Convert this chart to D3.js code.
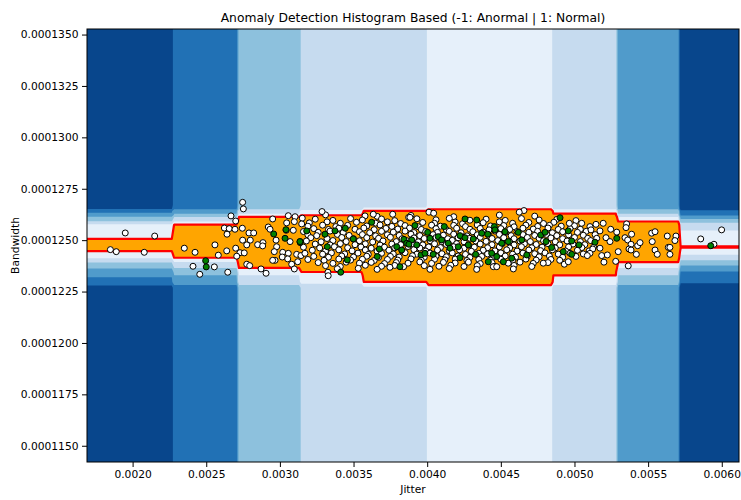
<!DOCTYPE html>
<html lang="en">
<head>
  <meta charset="UTF-8" />
  <title>Anomaly Detection Histogram Based</title>
  <script src="https://cdn.jsdelivr.net/npm/d3@7/dist/d3.min.js"></script>
  <style>
    body { margin: 0; background: #fff; }
    text { font-family: "DejaVu Sans", sans-serif; fill: #000; }
  </style>
</head>
<body>
  <div id="chart"></div>
  <script>
    // jitter values are in units of 1e-4, bandwidth values in units of 1e-7

    const xTicks = [0.0020, 0.0025, 0.0030, 0.0035, 0.0040, 0.0045, 0.0050, 0.0055, 0.0060]
    const yTicks = [0.0001150, 0.0001175, 0.0001200, 0.0001225, 0.0001250, 0.0001275, 0.0001300, 0.0001325, 0.0001350]

    // jitter histogram: inner bin edges and the score of each bin
    const jitterBinEdges = [22.74, 27.07, 31.38, 35.67, 39.96, 44.25, 48.5, 52.82, 57.1]
    const jitterBinScore = [0.6, 1.5, 3.5, 4.2, 4.8, 5.5, 5.5, 4.5, 2.5, 0.1]

    // bandwidth score profile
    const bwNodes = [1226.75, 1228.21, 1229.67, 1233.08, 1234.54, 1236.48, 1239.40, 1241.34, 1244.75, 1246.21,
      1250.59, 1257.88, 1258.86, 1261.29, 1261.92, 1262.75, 1264.35, 1264.84, 1266.64]
    const bwNodeScore = [0, 0.5, 1.2, 1.5, 1.8, 2.5, 3.5, 4.5, 5.4, 6.0, 5.4, 4.5, 3.5, 2.5, 1.8, 1.5, 1.2, 0.5, 0]

    // contour levels, the last one is the normal / anormal threshold
    const levels = [1, 2, 3, 4, 5, 6]
    const bandColors = ["#08468c", "#2171b5", "#509bcb", "#8dc1dd", "#c6dbef", "#e6f0fa", "orange"]

    // training observations
    const whitePts = [
      [19.50,1253.5],[21.50,1252.0],[18.49,1245.4],[18.89,1244.4],[20.79,1244.1],[23.51,1246.1],[24.24,1244.1],[24.10,1237.3],
      [27.47,1268.4],[27.52,1265.2],[26.68,1261.8],[27.00,1259.3],[29.51,1260.3],[30.57,1261.9],[31.03,1261.4],[31.52,1260.7],
      [26.23,1255.9],[26.56,1255.6],[26.95,1255.3],[27.45,1255.8],[27.90,1253.5],[28.22,1253.5],[29.21,1256.4],[29.33,1255.3],
      [30.46,1258.4],[30.98,1259.0],[31.48,1257.9],[26.41,1252.9],[30.43,1254.8],[30.91,1254.8],
      [25.59,1247.7],[27.47,1250.0],[27.99,1250.0],[27.75,1247.7],[28.85,1248.8],[28.49,1247.8],[28.83,1247.2],[29.74,1250.0],
      [29.78,1246.8],[30.69,1249.3],[31.38,1249.3],[27.00,1246.1],[27.29,1243.9],[27.58,1243.8],[27.07,1242.2],[26.39,1244.8],
      [25.82,1242.7],[29.62,1244.4],[30.19,1244.1],[30.16,1241.8],[30.57,1243.6],[31.14,1243.1],[31.43,1242.5],[29.67,1240.2],
      [29.51,1240.2],[30.53,1240.9],[31.21,1239.5],[27.75,1238.3],[27.95,1237.6],[28.72,1236.0],[29.06,1233.9],[30.80,1238.3],
      [30.98,1236.0],[25.55,1237.0],[24.56,1233.4],[26.46,1234.4],
      [33.1,1262.3],[36.6,1261.6],[38.9,1262.0],[41.8,1261.4],[44.9,1262.2],[47.3,1261.7],[32.86,1263.9],[40.12,1263.6],
      [40.44,1263.1],[46.57,1264.4],[46.25,1263.6],[36.34,1262.6],[35.78,1261.8],[37.66,1262.6],[38.74,1261.1],[38.83,1261.1],
      [32.4,1260.2],[33.6,1259.6],[34.8,1260.5],[35.6,1259.8],[36.9,1260.3],[37.8,1259.5],[39.3,1260.4],[40.6,1259.9],
      [41.5,1260.6],[42.9,1259.7],[44.0,1260.2],[45.3,1259.6],[46.4,1260.5],[47.6,1259.8],[48.8,1260.1],[50.1,1259.5],
      [32.0,1258.4],[33.2,1258.9],[34.1,1258.2],[35.2,1258.7],[36.5,1258.3],[37.3,1258.9],[38.2,1258.1],[39.7,1258.6],
      [40.5,1258.2],[41.9,1258.8],[42.4,1258.0],[43.8,1258.5],[44.9,1258.9],[45.8,1258.2],[46.9,1258.6],[47.9,1258.1],[48.6,1258.7],
      [31.9,1256.8],[32.9,1257.3],[33.8,1256.6],[34.6,1257.2],[35.9,1256.9],[36.8,1257.4],[37.6,1256.7],[38.5,1257.1],
      [39.4,1256.5],[40.3,1257.3],[40.9,1256.8],[41.8,1257.2],[42.6,1256.6],[43.4,1257.4],[44.3,1256.9],[45.2,1257.1],
      [45.9,1256.5],[46.7,1257.3],[47.5,1256.7],[48.3,1257.2],[49.1,1256.8],[50.0,1257.0],
      [32.3,1255.6],[33.3,1255.2],[34.0,1255.8],[35.1,1255.3],[35.7,1255.9],[36.4,1255.1],[37.2,1255.7],[38.0,1255.4],
      [38.8,1255.9],[39.6,1255.2],[40.6,1255.6],[41.3,1255.1],[42.0,1255.8],[42.9,1255.3],[43.6,1255.7],[44.2,1255.0],
      [45.0,1255.6],[45.6,1255.2],[46.5,1255.8],[47.2,1255.4],[48.2,1255.9],[48.9,1255.2],[49.7,1255.6],[50.4,1255.3],
      [31.6,1254.2],[32.6,1253.8],[33.4,1254.4],[34.3,1253.7],[35.4,1254.1],[36.1,1253.6],[36.9,1254.3],[37.7,1253.9],
      [38.5,1254.4],[39.1,1253.7],[39.9,1254.2],[40.7,1253.8],[41.5,1254.3],[42.3,1253.6],[43.1,1254.1],[43.8,1253.9],
      [44.6,1254.4],[45.3,1253.7],[46.1,1254.2],[46.9,1253.8],[47.5,1254.3],[48.5,1253.6],[49.2,1254.1],[50.2,1253.8],[50.8,1254.3],
      [31.9,1252.6],[32.5,1252.2],[33.9,1252.8],[34.7,1252.3],[35.6,1252.7],[36.5,1252.1],[37.3,1252.6],[38.1,1252.3],
      [38.9,1252.9],[39.5,1252.2],[40.4,1252.7],[41.1,1252.4],[41.8,1252.9],[42.7,1252.1],[43.4,1252.6],[44.2,1252.3],
      [44.9,1252.8],[45.7,1252.2],[46.5,1252.7],[47.3,1252.3],[48.1,1252.8],[48.8,1252.2],[49.6,1252.6],[50.6,1252.4],[51.4,1252.7],
      [32.1,1251.2],[33.2,1250.8],[34.2,1251.3],[35.0,1250.7],[35.9,1251.2],[36.7,1250.9],[37.5,1251.4],[38.3,1250.7],
      [39.1,1251.1],[39.8,1250.8],[40.6,1251.3],[41.4,1250.7],[42.1,1251.2],[42.9,1250.9],[43.6,1251.4],[44.4,1250.8],
      [45.2,1251.2],[45.9,1250.7],[46.8,1251.3],[47.6,1250.9],[48.4,1251.1],[49.2,1250.7],[50.0,1251.3],[50.9,1250.9],
      [31.8,1249.6],[32.8,1249.2],[33.6,1249.8],[34.5,1249.3],[35.4,1249.7],[36.3,1249.1],[37.0,1249.6],[37.9,1249.3],
      [38.6,1249.8],[39.4,1249.2],[40.2,1249.7],[41.0,1249.3],[41.7,1249.9],[42.5,1249.2],[43.3,1249.6],[44.0,1249.4],
      [44.8,1249.8],[45.6,1249.1],[46.3,1249.6],[47.0,1249.3],[47.9,1249.7],[48.7,1249.2],[49.5,1249.6],[50.4,1249.3],[51.1,1249.8],
      [32.4,1248.1],[33.4,1247.7],[34.1,1248.3],[35.1,1247.8],[35.8,1248.2],[36.8,1247.6],[37.6,1248.1],[38.2,1247.8],
      [39.0,1248.4],[39.7,1247.7],[40.5,1248.2],[41.3,1247.9],[42.0,1248.3],[42.8,1247.6],[43.6,1248.1],[44.4,1247.8],
      [45.1,1248.3],[45.9,1247.7],[46.6,1248.2],[47.4,1247.9],[48.2,1248.3],[49.0,1247.7],[49.9,1248.1],[50.7,1247.8],
      [31.6,1246.6],[32.7,1246.2],[33.7,1246.8],[34.6,1246.3],[35.5,1246.7],[36.2,1246.1],[37.1,1246.6],[37.8,1246.3],
      [38.7,1246.9],[39.5,1246.2],[40.1,1246.7],[40.9,1246.4],[41.8,1246.8],[42.5,1246.1],[43.2,1246.6],[44.1,1246.3],
      [44.9,1246.7],[45.6,1246.2],[46.4,1246.8],[47.1,1246.3],[47.8,1246.6],[48.7,1246.2],[49.6,1246.7],[50.5,1246.4],[51.3,1246.6],
      [32.2,1245.1],[33.1,1244.7],[34.0,1245.3],[34.9,1244.8],[35.8,1245.2],[36.6,1244.6],[37.4,1245.1],[38.3,1244.8],
      [39.1,1245.4],[39.9,1244.7],[40.7,1245.2],[41.5,1244.9],[42.2,1245.3],[43.0,1244.6],[43.8,1245.1],[44.6,1244.8],
      [45.4,1245.3],[46.1,1244.7],[46.9,1245.2],[47.7,1244.9],[48.5,1245.3],[49.4,1244.7],[50.2,1245.1],[51.0,1244.8],
      [31.7,1243.6],[32.9,1243.2],[33.5,1243.8],[34.4,1243.3],[35.3,1243.7],[36.0,1243.1],[36.9,1243.6],[37.7,1243.3],
      [38.5,1243.9],[39.3,1243.2],[40.2,1243.7],[41.0,1243.4],[41.7,1243.8],[42.6,1243.1],[43.5,1243.6],[44.1,1243.3],
      [45.0,1243.8],[45.8,1243.2],[46.5,1243.7],[47.3,1243.4],[48.0,1243.8],[48.9,1243.2],[49.7,1243.6],[50.6,1243.3],
      [32.3,1242.1],[33.3,1241.7],[34.2,1242.3],[35.0,1241.8],[35.9,1242.2],[36.7,1241.6],[37.5,1242.1],[38.1,1241.8],
      [39.0,1242.4],[39.8,1241.7],[40.6,1242.2],[41.3,1241.9],[42.1,1242.3],[42.9,1241.6],[43.7,1242.1],[44.5,1241.8],
      [45.3,1242.3],[46.0,1241.7],[46.8,1242.2],[47.6,1241.9],[48.3,1242.3],[49.2,1241.7],[50.1,1242.1],
      [31.9,1240.6],[33.0,1240.2],[34.0,1240.8],[34.8,1240.3],[35.6,1240.7],[36.4,1240.1],[37.3,1240.6],[38.0,1240.3],
      [38.9,1240.9],[39.6,1240.2],[40.5,1240.7],[41.2,1240.4],[41.9,1240.8],[42.7,1240.1],[43.5,1240.6],[44.3,1240.3],
      [45.0,1240.7],[45.8,1240.2],[46.7,1240.8],[47.4,1240.3],[48.4,1240.6],[49.0,1240.2],
      [32.6,1239.1],[33.6,1238.7],[34.5,1239.3],[35.4,1238.8],[36.2,1239.2],[37.1,1238.6],[37.9,1239.1],[38.7,1238.8],
      [39.5,1239.4],[40.3,1238.7],[41.1,1239.2],[41.9,1238.9],[42.8,1239.3],[43.6,1238.6],[44.4,1239.1],[45.5,1238.8],
      [46.3,1239.3],[47.2,1238.7],[48.2,1239.1],
      [33.1,1237.6],[34.1,1237.2],[35.8,1237.8],[36.9,1237.3],[37.8,1237.7],[38.4,1237.1],[39.8,1237.6],[40.8,1237.3],
      [41.6,1237.8],[42.5,1237.2],[43.4,1237.6],[44.6,1237.3],[45.9,1237.7],[47.1,1237.2],
      [33.9,1236.1],[35.32,1236.3],[36.6,1235.8],[37.47,1236.8],[40.19,1235.8],[41.5,1236.2],[43.36,1235.8],[44.49,1237.1],
      [44.72,1237.1],[45.85,1236.0],[33.26,1234.4],[33.28,1232.7],[47.88,1238.8],[49.31,1238.3],[49.58,1239.5],
      [49.65,1258.2],[50.49,1258.2],[51.05,1256.6],[51.46,1257.7],[51.95,1258.2],[52.46,1255.3],[51.12,1255.0],[51.73,1254.5],
      [52.14,1251.2],[51.51,1250.9],[52.41,1249.3],[51.73,1246.1],[51.24,1245.7],[51.05,1243.6],[50.87,1242.5],[51.85,1242.5],
      [52.23,1242.8],[52.00,1239.3],
      [53.54,1257.9],[53.50,1256.1],[52.87,1253.9],[53.43,1251.2],[53.61,1250.1],[53.88,1252.9],[53.84,1248.0],[54.29,1247.3],
      [54.45,1248.8],[53.70,1245.7],[53.84,1245.2],[52.97,1244.4],[54.20,1243.1],[53.65,1237.5],[52.80,1239.7],[55.24,1253.4],
      [55.47,1254.1],[55.28,1249.3],[56.30,1252.0],[56.89,1252.0],[56.82,1249.8],[56.37,1246.5],[56.48,1246.5],[55.47,1245.2],
      [55.62,1243.1],[56.48,1243.1],
      [59.99,1255.0],[58.57,1250.6],[59.47,1248.0]
    ]

    // new regular observations
    const greenPts = [
      [24.96,1240.0],[25.00,1237.0],[29.58,1253.0],[30.41,1255.1],[30.35,1250.9],[31.38,1248.8],
      [31.82,1254.5],[33.06,1252.9],[33.74,1254.5],[34.44,1255.8],[36.23,1258.7],[34.98,1250.6],[33.22,1246.8],[36.75,1245.7],
      [37.93,1246.8],[38.27,1245.2],[38.42,1250.4],[38.61,1248.5],[34.58,1240.4],[36.61,1242.0],[38.15,1237.1],[34.13,1234.4],
      [31.36,1249.3],
      [42.57,1260.3],[43.36,1259.8],[39.17,1257.1],[40.03,1253.8],[41.16,1256.6],[40.19,1250.9],[40.75,1251.7],[40.98,1250.1],
      [41.43,1248.5],[38.95,1250.1],[39.29,1247.7],[39.58,1242.8],[39.85,1243.6],[40.41,1243.1],[42.23,1252.2],[42.57,1251.2],
      [43.13,1250.6],[42.79,1247.7],[42.11,1246.8],[43.29,1243.1],[43.70,1253.4],[44.11,1252.9],[44.56,1256.6],[44.60,1255.0],
      [45.28,1254.1],[45.06,1248.5],[45.51,1249.3],[44.38,1243.6],[44.72,1242.0],[44.15,1239.5],[45.17,1239.5],[45.74,1241.2],
      [41.55,1246.1],[42.23,1241.5],[38.76,1248.0],
      [49.02,1260.9],[46.18,1253.8],[46.42,1250.1],[46.76,1242.8],[47.71,1252.5],[48.00,1253.8],[48.07,1249.3],[48.45,1246.4],
      [49.58,1254.5],[49.81,1249.6],[49.24,1244.4],[49.81,1243.1],[50.31,1247.7],[51.39,1249.0],
      [52.87,1250.9],[59.25,1247.3]
    ]

    const J = 1e-4, B = 1e-7

    const margin = { left: 87, right: 739, top: 29, bottom: 462 }

    const svg = d3.select("#chart")
      .append("svg")
      .attr("width", 741)
      .attr("height", 500)

    const x = d3.scaleLinear()
      .domain([0.0016904, 0.0061170])
      .range([margin.left, margin.right])

    const y = d3.scaleLinear()
      .domain([0.00011421, 0.00013527])
      .range([margin.bottom, margin.top])

    // score = jitter histogram score + bandwidth profile score
    const sx = d3.scaleThreshold()
      .domain(jitterBinEdges.map(v => v * J))
      .range(jitterBinScore)
    const sy = d3.scaleLinear()
      .domain(bwNodes.map(v => v * B))
      .range(bwNodeScore)
      .clamp(true)

    // score grid, slightly larger than the axes so no contour edge shows
    const nx = 280, ny = 230
    const gx0 = x.invert(margin.left - 10), gx1 = x.invert(margin.right + 10)
    const gy0 = y.invert(margin.bottom + 10), gy1 = y.invert(margin.top - 10)
    const dx = (gx1 - gx0) / nx, dy = (gy1 - gy0) / ny
    const values = new Float64Array(nx * ny)
    for (let j = 0; j < ny; j++) {
      for (let i = 0; i < nx; i++) {
        values[i + j * nx] = sx(gx0 + (i + 0.5) * dx) + sy(gy0 + (j + 0.5) * dy)
      }
    }
    const bands = d3.contours().size([nx, ny]).thresholds(levels)(values)

    const gridPath = d3.geoPath(d3.geoTransform({
      point: function (px, py) {
        this.stream.point(x(gx0 + px * dx), y(gy0 + py * dy))
      }
    }))

    svg.append("clipPath").attr("id", "clip")
      .append("rect")
      .attr("x", margin.left).attr("y", margin.top)
      .attr("width", margin.right - margin.left)
      .attr("height", margin.bottom - margin.top)

    const plot = svg.append("g").attr("clip-path", "url(#clip)")

    plot.append("rect")
      .attr("x", margin.left).attr("y", margin.top)
      .attr("width", margin.right - margin.left)
      .attr("height", margin.bottom - margin.top)
      .attr("fill", bandColors[0])

    plot.selectAll("path.band")
      .data(bands)
      .join("path")
      .attr("class", "band")
      .attr("d", gridPath)
      .attr("fill", (d, i) => bandColors[i + 1])

    // decision boundary
    plot.append("path")
      .datum(bands[bands.length - 1])
      .attr("d", gridPath)
      .attr("fill", "none")
      .attr("stroke", "red")
      .attr("stroke-width", 2.2)
      .attr("stroke-linejoin", "round")

    plot.append("g").selectAll("circle")
      .data(whitePts)
      .join("circle")
      .attr("cx", d => x(d[0] * J))
      .attr("cy", d => y(d[1] * B))
      .attr("r", 3)
      .attr("fill", "white")
      .attr("stroke", "black")
      .attr("stroke-width", 1)

    plot.append("g").selectAll("circle")
      .data(greenPts)
      .join("circle")
      .attr("cx", d => x(d[0] * J))
      .attr("cy", d => y(d[1] * B))
      .attr("r", 3)
      .attr("fill", "green")
      .attr("stroke", "black")
      .attr("stroke-width", 1)

    // axes
    const xAxis = svg.append("g")
      .attr("transform", "translate(0," + margin.bottom + ")")
      .call(d3.axisBottom(x).tickValues(xTicks).tickFormat(d3.format(".4f")).tickSize(5).tickPadding(3.5))
    const yAxis = svg.append("g")
      .attr("transform", "translate(" + margin.left + ",0)")
      .call(d3.axisLeft(y).tickValues(yTicks).tickFormat(d3.format(".7f")).tickSize(5).tickPadding(3.5))

    for (const ax of [xAxis, yAxis]) {
      ax.select(".domain").remove()
      ax.selectAll("text").attr("font-size", 10.7).attr("font-family", "DejaVu Sans").attr("fill", "#000")
      ax.selectAll("line").attr("stroke", "#000").attr("stroke-width", 1)
    }

    svg.append("rect")
      .attr("x", margin.left).attr("y", margin.top)
      .attr("width", margin.right - margin.left)
      .attr("height", margin.bottom - margin.top)
      .attr("fill", "none")
      .attr("stroke", "#000")
      .attr("stroke-width", 1)

    svg.append("text")
      .attr("x", (margin.left + margin.right) / 2)
      .attr("y", 22)
      .attr("text-anchor", "middle")
      .attr("font-size", 12.3)
      .text("Anomaly Detection Histogram Based (-1: Anormal | 1: Normal)")

    svg.append("text")
      .attr("x", (margin.left + margin.right) / 2)
      .attr("y", 493)
      .attr("text-anchor", "middle")
      .attr("font-size", 10.7)
      .text("Jitter")

    svg.append("text")
      .attr("transform", "translate(19," + (margin.top + margin.bottom) / 2 + ") rotate(-90)")
      .attr("text-anchor", "middle")
      .attr("font-size", 10.7)
      .text("Bandwidth")
  </script>
</body>
</html>
